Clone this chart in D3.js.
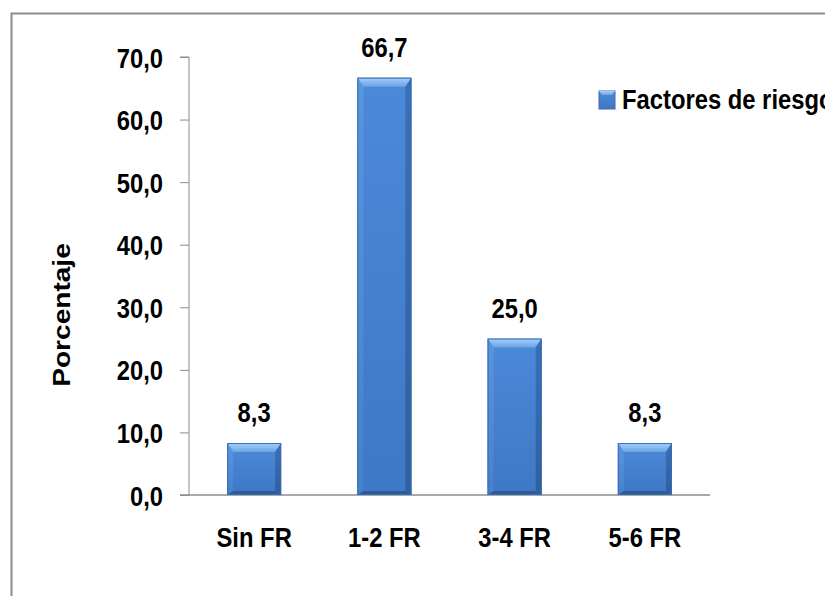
<!DOCTYPE html>
<html>
<head>
<meta charset="utf-8">
<script src="https://cdn.jsdelivr.net/npm/d3@7"></script>
<style>
  html, body { margin: 0; padding: 0; background: #fff; }
  svg { display: block; }
  text { font-family: "Liberation Sans", Arial, sans-serif; font-weight: bold; fill: #000; }
  .narrow { transform-box: fill-box; transform: scaleX(0.85); }
</style>
</head>
<body>
<svg id="chart" width="825" height="596"></svg>
<script>
// Chart data
const categories = ["Sin FR", "1-2 FR", "3-4 FR", "5-6 FR"];
const values = [8.3, 66.7, 25.0, 8.3];
const yTicks = [0, 10, 20, 30, 40, 50, 60, 70];
const seriesName = "Factores de riesgo";
const yTitle = "Porcentaje";

const svg = d3.select("#chart");
const fmt = v => d3.format(".1f")(v).replace(".", ",");
const FS = "28px";

// condensed look for labels, anchored on the given side
const narrow = (sel, origin) => sel.classed("narrow", true).style("transform-origin", origin);

// Outer frame
svg.append("rect")
  .attr("x", 11.5).attr("y", 13.5)
  .attr("width", 830).attr("height", 600)
  .attr("fill", "none").attr("stroke", "#8c8c8c").attr("stroke-width", 2);

const plot = { left: 189, right: 710, top: 57, bottom: 495 };

const x = d3.scaleBand()
  .domain(categories)
  .range([plot.left, plot.right])
  .paddingInner(0.585)
  .paddingOuter(0.2925);

const y = d3.scaleLinear().domain([0, 70]).range([plot.bottom, plot.top]);

// Gradients for the bevelled bars
const defs = svg.append("defs");
function vGrad(id, c0, c1) {
  const g = defs.append("linearGradient").attr("id", id).attr("x1", 0).attr("x2", 0).attr("y1", 0).attr("y2", 1);
  g.append("stop").attr("offset", "0%").attr("stop-color", c0);
  g.append("stop").attr("offset", "100%").attr("stop-color", c1);
}
vGrad("face", "#4c89d9", "#3f78c4");
vGrad("topb", "#a6d0fa", "#6aa3e6");
vGrad("leftb", "#5a96e0", "#4580cc");
vGrad("rightb", "#3a70b8", "#2f5f9f");

// Y axis
const yAxis = d3.axisLeft(y).tickValues(yTicks).tickSize(9).tickPadding(17).tickFormat(fmt);
const ya = svg.append("g").attr("transform", `translate(${plot.left},0)`).call(yAxis);
ya.select(".domain").attr("stroke", "#8c8c8c").attr("d", `M-9,${y(70)}H0V${y(0)}`);
ya.selectAll(".tick line").attr("stroke", "#8c8c8c");
ya.selectAll(".tick text").style("font-size", FS).attr("dy", "0.36em").call(narrow, "right center");

// X axis
const xAxis = d3.axisBottom(x).tickSize(0).tickPadding(52);
const xa = svg.append("g").attr("transform", `translate(0,${plot.bottom})`).call(xAxis);
xa.select(".domain").attr("stroke", "#8c8c8c").attr("stroke-width", 1.5).attr("d", `M${plot.left - 9},0H${plot.right}`);
xa.selectAll(".tick text").style("font-size", FS).attr("dy", "0").call(narrow, "center");

// Bevelled bars
const bw = x.bandwidth();
const rows = categories.map((c, i) => ({ c, v: values[i] }));
const bars = svg.append("g").selectAll("g").data(rows).join("g");
bars.each(function(d) {
  const gsel = d3.select(this);
  const x0 = x(d.c), x1 = x0 + bw, y0 = y(d.v), y1 = y(0);
  const bt = 9, bs = 6, bb = 4;
  gsel.append("rect").attr("x", x0).attr("y", y0).attr("width", bw).attr("height", y1 - y0).attr("fill", "url(#face)");
  gsel.append("polygon").attr("points", [[x0, y0], [x1, y0], [x1 - bs, y0 + bt], [x0 + bs, y0 + bt]].join(" ")).attr("fill", "url(#topb)");
  gsel.append("polygon").attr("points", [[x0, y0], [x0 + bs, y0 + bt], [x0 + bs, y1 - bb], [x0, y1]].join(" ")).attr("fill", "url(#leftb)");
  gsel.append("polygon").attr("points", [[x1, y0], [x1 - bs, y0 + bt], [x1 - bs, y1 - bb], [x1, y1]].join(" ")).attr("fill", "url(#rightb)");
  gsel.append("polygon").attr("points", [[x0, y1], [x0 + bs, y1 - bb], [x1 - bs, y1 - bb], [x1, y1]].join(" ")).attr("fill", "#2d5b98");
  gsel.append("rect").attr("x", x0 + 0.5).attr("y", y0 + 0.5).attr("width", bw - 1).attr("height", y1 - y0 - 1)
    .attr("fill", "none").attr("stroke", "#3a6cb0").attr("stroke-width", 1);
});

// Value labels
svg.append("g").selectAll("text").data(rows).join("text")
  .attr("x", d => x(d.c) + bw / 2)
  .attr("y", d => y(d.v) - 21)
  .attr("text-anchor", "middle")
  .style("font-size", FS)
  .text(d => fmt(d.v))
  .call(narrow, "center");

// Y axis title
svg.append("text")
  .attr("transform", `translate(70,315) rotate(-90) scale(1.17,1)`)
  .attr("text-anchor", "middle")
  .style("font-size", "24px")
  .text(yTitle);

// Legend
const lg = svg.append("g").attr("transform", "translate(599,91)");
lg.append("rect").attr("width", 16).attr("height", 18).attr("fill", "url(#face)").attr("stroke", "#3a6cb0");
lg.append("polygon").attr("points", "0,0 16,0 13,4 3,4").attr("fill", "url(#topb)");
lg.append("text").attr("x", 23).attr("y", 18).style("font-size", FS).text(seriesName).call(narrow, "left center");
</script>
</body>
</html>
